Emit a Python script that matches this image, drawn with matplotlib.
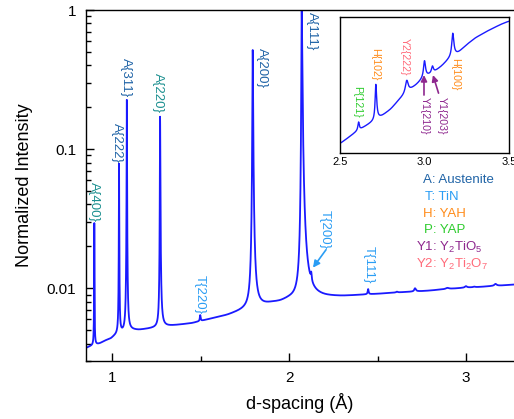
import numpy as np
import matplotlib
matplotlib.use("Agg")
import matplotlib.pyplot as plt
from matplotlib.ticker import FixedLocator, LogLocator, NullFormatter, MultipleLocator

plt.rcParams['font.family'] = ['Liberation Sans', 'DejaVu Sans']
plt.rcParams['mathtext.fontset'] = 'custom'
plt.rcParams['mathtext.rm'] = 'Liberation Sans'
plt.rcParams['mathtext.it'] = 'Liberation Sans:italic'

# Background level (d-spacing in Å, normalized intensity)
bg_d = [0.85, 0.87, 0.90, 0.93, 0.96, 0.99, 1.01, 1.04, 1.07, 1.10, 1.15, 1.20,
        1.25, 1.30, 1.35, 1.40, 1.45, 1.50, 1.55, 1.60, 1.65, 1.70, 1.75, 1.80,
        1.85, 1.90, 1.95, 2.00, 2.05, 2.10, 2.20, 2.30, 2.40, 2.45, 2.50, 2.56,
        2.60, 2.65, 2.70, 2.75, 2.80, 2.85, 2.90, 2.95, 3.00, 3.05, 3.10, 3.15,
        3.20, 3.25, 3.30, 3.37, 3.45, 3.50]
bg_i = [0.0037, 0.0038, 0.0039, 0.0040, 0.0042, 0.0043, 0.0045, 0.0047, 0.0048,
        0.0050, 0.0050, 0.0051, 0.0052, 0.0053, 0.0054, 0.0055, 0.0056, 0.0058,
        0.0060, 0.0062, 0.0064, 0.0067, 0.0070, 0.0072, 0.0075, 0.0078, 0.0080,
        0.0084, 0.0086, 0.0086, 0.0086, 0.0087, 0.0089, 0.0090, 0.00908, 0.0092,
        0.00928, 0.00936, 0.00944, 0.00952, 0.00962, 0.00976, 0.00988, 0.00998,
        0.0101, 0.01016, 0.01026, 0.01038, 0.01046, 0.01058, 0.01068, 0.01078,
        0.01088, 0.01093]

# Reflections: position, height above background, left / right half widths
pk_name = ['A{400}', 'A{222}', 'A{311}', 'A{220}', 'T{220}', 'A{200}', 'A{111}',
           'T{200}', 'T{111}', 'P{121}', 'H{102}', 'Y2{222}', 'Y1{210}',
           'Y1{203}', 'H{100}']
pk_d = [0.898, 1.038, 1.082, 1.270, 1.497, 1.794, 2.071,
        2.125, 2.447, 2.610, 2.712, 2.895, 3.000, 3.047, 3.167]
pk_h = [0.0255, 0.0738, 0.221, 0.1658, 0.0006, 0.5085, 0.9915,
        0.0015, 0.0008, 0.00012, 0.00052, 0.00018, 0.00024, 0.0001, 0.00034]
pk_wl = [0.0008, 0.0009, 0.0009, 0.0010, 0.0025, 0.0016, 0.0015,
         0.0030, 0.0030, 0.005, 0.005, 0.010, 0.007, 0.007, 0.007]
pk_wr = [0.0008, 0.0009, 0.0009, 0.0013, 0.0025, 0.0020, 0.0030,
         0.0030, 0.0030, 0.005, 0.006, 0.010, 0.007, 0.007, 0.008]

# Build the diffraction profile on a fine d-spacing grid
d = np.union1d(np.arange(0.85, 3.5001, 0.0005), pk_d)
step = 0.0005
bg = np.interp(np.arange(0.85, 3.5001, step), bg_d, bg_i)
k = np.arange(-40, 41) * step
kern = np.exp(-0.5 * (k / 0.008) ** 2)
kern /= kern.sum()
bg = np.convolve(np.pad(bg, 40, mode='edge'), kern, mode='valid')
bg = np.interp(d, np.arange(0.85, 3.5001, step)[:bg.size], bg)
inten = bg.copy()
for c, h, wl, wr in zip(pk_d, pk_h, pk_wl, pk_wr):
    w = np.where(d < c, wl, wr)
    inten += h / (1.0 + ((d - c) / w) ** 2)

W, H = 514, 419
fig = plt.figure(figsize=(W / 100, H / 100), dpi=100)
ax = fig.add_axes([86 / W, (H - 361) / H, (W - 86) / W, (361 - 10) / H])

line_col = '#1a1aff'
ax.plot(d, inten, color=line_col, lw=1.3)
ax.set_yscale('log')
ax.set_xlim(0.851, 3.272)
ax.set_ylim(0.003, 1.0)

ax.yaxis.set_major_locator(FixedLocator([0.01, 0.1, 1]))
ax.set_yticklabels(['0.01', '0.1', '1'])
ax.yaxis.set_minor_locator(LogLocator(base=10, subs=np.arange(2, 10)))
ax.yaxis.set_minor_formatter(NullFormatter())
ax.xaxis.set_major_locator(FixedLocator([1, 2, 3]))
ax.set_xticklabels(['1', '2', '3'])
ax.xaxis.set_minor_locator(MultipleLocator(0.5))
ax.tick_params(which='both', direction='in', top=False, right=False,
               width=1.0, labelsize=11)
ax.tick_params(which='major', length=6, pad=7)
ax.tick_params(which='minor', length=3.5)
ax.spines['right'].set_visible(False)
for s in ('left', 'bottom', 'top'):
    ax.spines[s].set_linewidth(1.0)

ax.set_xlabel('d-spacing (Å)', fontsize=13, labelpad=6)
ax.set_ylabel('Normalized Intensity', fontsize=13, labelpad=10)

blue_a = '#1f63a6'
teal_a = '#1a8f8f'
tin_c = '#2a9df4'
yah_c = '#ff8c1a'
yap_c = '#2ecc2e'
y1_c = '#8e278e'
y2_c = '#ff6b7a'

main_labels = [
    ('A{400}', 0.8965, 0.0582, teal_a),
    ('A{222}', 1.0266, 0.1545, blue_a),
    ('A{311}', 1.0747, 0.452, blue_a),
    ('A{220}', 1.260, 0.353, teal_a),
    ('A{200}', 1.848, 0.534, blue_a),
    ('A{111}', 2.1267, 0.967, blue_a),
    ('T{220}', 1.496, 0.01253, tin_c),
    ('T{200}', 2.203, 0.03666, tin_c),
    ('T{111}', 2.448, 0.0200, tin_c),
]
for txt, x, y, col in main_labels:
    ax.text(x, y, txt, rotation=270, ha='center', va='top', color=col,
            fontsize=9.5)

ax.annotate('', xy=(2.135, 0.01406), xytext=(2.2087, 0.01892),
            arrowprops=dict(arrowstyle='-|>', color=tin_c, lw=1.2,
                            mutation_scale=10, shrinkA=0, shrinkB=0))

# Phase key
key = [
    ('A: Austenite', 423, 180, blue_a),
    ('T: TiN', 425, 197, tin_c),
    ('H: YAH', 423, 213.5, yah_c),
    ('P: YAP', 424, 230, yap_c),
    ('Y1: Y$_2$TiO$_5$', 416, 247, y1_c),
    ('Y2: Y$_2$Ti$_2$O$_7$', 416, 264, y2_c),
]
for txt, x, y, col in key:
    fig.text(x / W, 1 - y / H, txt, color=col, fontsize=9.5,
             ha='left', va='center')

# Inset: weak second-phase reflections
axi = fig.add_axes([340 / W, (H - 152.7) / H, 169 / W, 136 / H])
axi.set_facecolor('white')
axi.plot(d, inten, color=line_col, lw=1.0)
axi.set_xlim(2.5, 3.5)
axi.set_ylim(0.0090, 0.0110)
axi.set_yticks([])
axi.set_xticks([2.5, 3.0, 3.5])
axi.set_xticklabels(['2.5', '3.0', '3.5'])
axi.tick_params(axis='x', direction='in', length=0, pad=3, labelsize=8)
for s in axi.spines.values():
    s.set_linewidth(1.0)

inset_labels = [
    ('P{121}', 0.102, 0.490, yap_c),
    ('H{102}', 0.207, 0.768, yah_c),
    ('Y2{222}', 0.385, 0.841, y2_c),
    ('H{100}', 0.680, 0.694, yah_c),
    ('Y1{210}', 0.503, 0.412, y1_c),
    ('Y1{203}', 0.602, 0.412, y1_c),
]
for txt, x, y, col in inset_labels:
    axi.text(x, y, txt, transform=axi.transAxes, rotation=270, ha='center',
             va='top', color=col, fontsize=7.7)

for (x0, y0), (x1, y1) in [((0.497, 0.424), (0.497, 0.571)),
                           ((0.583, 0.438), (0.550, 0.571))]:
    axi.annotate('', xy=(x1, y1), xytext=(x0, y0), xycoords='axes fraction',
                 textcoords='axes fraction',
                 arrowprops=dict(arrowstyle='-|>', color=y1_c, lw=1.2,
                                 mutation_scale=9, shrinkA=0, shrinkB=0))

fig.savefig('out.png', dpi=100)
